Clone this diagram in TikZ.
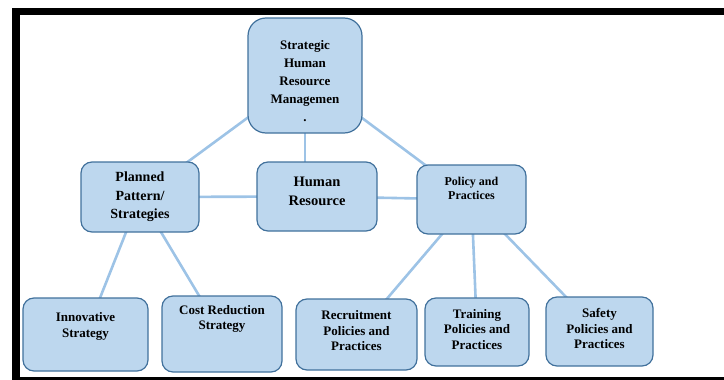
\documentclass[tikz,border=0pt]{standalone}
\usepackage{fontspec}
\setmainfont{Liberation Serif}
\usetikzlibrary{backgrounds}

\definecolor{boxfill}{RGB}{189,215,238}
\definecolor{boxline}{RGB}{65,113,156}
\definecolor{linkblue}{RGB}{157,195,230}

\tikzset{
  hrmbox/.style={draw=boxline, fill=boxfill, line width=1.2pt, rounded corners=11pt,
    align=center, inner sep=3pt, font=\fontsize{13}{15.5}\selectfont\bfseries},
  link/.style={draw=linkblue, line width=2.6pt},
}

\begin{document}
\begin{tikzpicture}[x=1pt,y=-1pt]
      \useasboundingbox (0,0) rectangle (724,380);

      % Draw frame
      \fill (12,8) rectangle (724,15);
      \fill (12,8) rectangle (20,380);
      \fill (12,377) rectangle (724,380);

      % Top and middle row
      \node[hrmbox, rounded corners=18pt, minimum width=114pt, minimum height=115pt,
        text height=93pt, font=\fontsize{13}{18}\selectfont\bfseries]
        (shrm) at (305,75.5) {Strategic\\Human\\Resource\\Managemen\\.};
      \node[hrmbox, minimum width=118pt, minimum height=70pt,
        font=\fontsize{14}{18.5}\selectfont\bfseries]
        (plan) at (140,197) {Planned\\Pattern/\\Strategies};
      \node[hrmbox, minimum width=120pt, minimum height=69pt, text depth=10pt,
        font=\fontsize{14.5}{19}\selectfont\bfseries]
        (hr) at (317,196.5) {Human\\Resource};
      \node[hrmbox, minimum width=109pt, minimum height=69pt, text depth=22pt,
        font=\fontsize{12}{13.5}\selectfont\bfseries]
        (policy) at (471.5,199.5) {Policy and\\Practices};

      % Bottom row
      \node[hrmbox, minimum width=125pt, minimum height=73pt, text depth=19pt]
        (innov) at (85.5,334.5) {Innovative\\Strategy};
      \node[hrmbox, minimum width=120pt, minimum height=76pt, text depth=33pt]
        (cost) at (222,334) {Cost Reduction\\Strategy};
      \node[hrmbox, minimum width=121pt, minimum height=71pt, text depth=8pt]
        (recruit) at (356.5,334.5) {Recruitment\\Policies and\\Practices};
      \node[hrmbox, minimum width=104pt, minimum height=68pt, text depth=6pt]
        (train) at (477,332) {Training\\Policies and\\Practices};
      \node[hrmbox, minimum width=107pt, minimum height=69pt, text depth=6pt]
        (safety) at (599.5,331.5) {Safety\\Policies and\\Practices};

      % Connect the boxes
      \begin{scope}[on background layer]
        \draw[link] (shrm.center) -- (plan.center);
        \draw[link] (shrm.center) -- (shrm.center |- hr.center);
        \draw[link] (shrm.center) -- (policy.center);
        \draw[link] (plan.center) -- (hr.center) -- (policy.center);
        \draw[link] (plan.center) -- (innov.center);
        \draw[link] (plan.center) -- (cost.center);
        \draw[link] (policy.center) -- (recruit.center);
        \draw[link] (policy.center) -- (train.center);
        \draw[link] (policy.center) -- (safety.center);
      \end{scope}
    \end{tikzpicture}
\end{document}
